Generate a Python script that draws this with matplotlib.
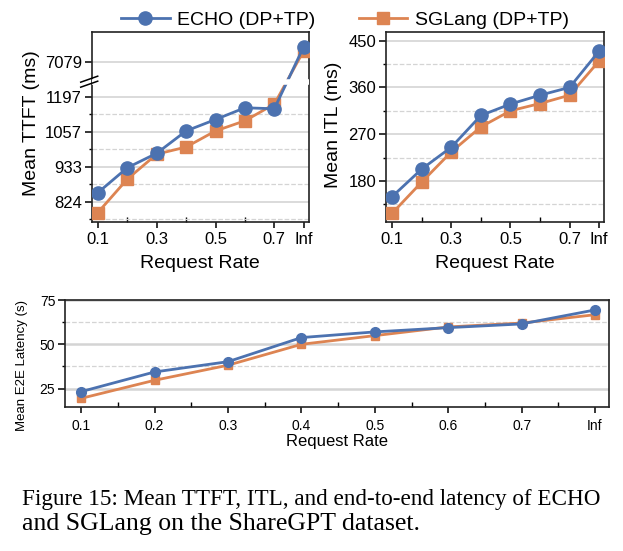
import matplotlib
matplotlib.use("Agg")
import matplotlib.pyplot as plt
import numpy as np

plt.rcParams['font.family'] = ['Liberation Sans', 'DejaVu Sans']

rates = ['0.1', '0.2', '0.3', '0.4', '0.5', '0.6', '0.7', 'Inf']

# mean TTFT (ms)
ttft_echo = [851, 930, 979, 1060, 1104, 1151, 1147, 7467]
ttft_sglang = [793, 893, 976, 1001, 1060, 1099, 1166, 7361]
ttft_ticks = [824, 933, 1057, 1197, 7079]
ttft_minor = [774, 877, 993, 1125]

# mean ITL (ms)
itl_echo = [150, 203, 245, 306, 328, 345, 360, 430]
itl_sglang = [118, 178, 236, 284, 315, 329, 345, 411]
itl_ticks = [180, 270, 360, 450]
itl_minor = [135, 225, 315, 405]

# mean E2E latency (s)
e2e_echo = [23.3, 34.4, 40.2, 53.8, 57.0, 59.4, 61.5, 69.4]
e2e_sglang = [19.5, 29.7, 38.2, 50.0, 54.9, 59.8, 62.0, 66.7]
e2e_ticks = [25, 50, 75]
e2e_minor = [37.5, 62.5]

blue = '#4C72B0'
orange = '#DD8452'

# broken log axis for TTFT
B1, B2 = 1263, 6593


def fwd(y):
    y = np.clip(np.asarray(y, float), 1e-9, None)
    ly = np.log(y)
    return np.where(y <= B1, ly,
                    np.where(y >= B2, ly - np.log(B2) + np.log(B1), np.log(B1)))


def inv(v):
    v = np.asarray(v, float)
    return np.where(v <= np.log(B1), np.exp(v), np.exp(v - np.log(B1) + np.log(B2)))


def style_axes(ax, yticks, yminor, fs_tick, big=True):
    for s in ax.spines.values():
        s.set_linewidth(1.2)
        s.set_color('#222222')
    ax.set_yticks(yticks)
    ax.set_yticks(yminor, minor=True)
    ax.set_yticklabels([str(t) for t in yticks])
    ax.tick_params(axis='y', which='major', direction='out', length=5, width=1.1, labelsize=fs_tick, pad=2)
    ax.tick_params(axis='y', which='minor', direction='out', length=2.5, width=1.0)
    ax.tick_params(axis='x', which='major', direction='out', length=4, width=1.1, labelsize=fs_tick,
                   pad=3 if big else 5)
    ax.tick_params(axis='x', which='minor', direction='in', length=3.5, width=1.0)
    ax.grid(axis='y', which='major', color='#d4d4d4', lw=1.2 if big else 1.8, zorder=0)
    ax.grid(axis='y', which='minor', color='#d4d4d4', ls='--', lw=0.9, zorder=0)
    ax.set_axisbelow(True)


fig = plt.figure(figsize=(6.23, 5.51), dpi=100)
x = np.arange(len(rates))

# ---- TTFT
ax1 = fig.add_axes([0.1472, 0.5966, 0.3488, 0.3448])
ax1.set_yscale('function', functions=(fwd, inv))
ax1.plot(x, ttft_sglang, color=orange, marker='s', ms=9, lw=2, zorder=3, label='SGLang (DP+TP)')
ax1.plot(x, ttft_echo, color=blue, marker='o', ms=9.5, lw=2, zorder=3, label='ECHO (DP+TP)')
ax1.set_ylim(766, 7859)
style_axes(ax1, ttft_ticks, ttft_minor, 12)
# break marks
yb = (222.3 - 81.7) / 190
ax1.plot([0.006, 0.994], [yb, yb], transform=ax1.transAxes, color='white', lw=4, zorder=4)
for off in (-2.5, 2.5):
    ax1.plot([-11 / 217.3, 6 / 217.3], [yb + (off - 3) / 190, yb + (off + 3) / 190],
             transform=ax1.transAxes, color='black', lw=1.1, clip_on=False, zorder=5)
ax1.set_ylabel('Mean TTFT (ms)', fontsize=14)
ax1.yaxis.set_label_coords(-0.238, 0.52)

# ---- ITL
ax2 = fig.add_axes([0.6196, 0.5966, 0.3507, 0.3448])
ax2.plot(x, itl_sglang, color=orange, marker='s', ms=9, lw=2, zorder=3)
ax2.plot(x, itl_echo, color=blue, marker='o', ms=9.5, lw=2, zorder=3)
ax2.set_ylim(100.5, 466)
style_axes(ax2, itl_ticks, itl_minor, 12)
ax2.set_ylabel('Mean ITL (ms)', fontsize=14)
ax2.yaxis.set_label_coords(-0.20, 0.515)

for ax in (ax1, ax2):
    ax.set_xlim(-0.21, 7.18)
    ax.set_xticks([0, 2, 4, 6, 7])
    ax.set_xticklabels([rates[i] for i in [0, 2, 4, 6, 7]])
    ax.set_xticks([1, 3, 5], minor=True)
    ax.set_xlabel('Request Rate', fontsize=14)
    ax.xaxis.set_label_coords(0.5, -0.17)

# ---- E2E
ax3 = fig.add_axes([65 / 623, 1 - 406.7 / 551, 544 / 623, 106.7 / 551])
ax3.plot(x, e2e_sglang, color=orange, marker='s', ms=5.5, lw=2, zorder=3)
ax3.plot(x, e2e_echo, color=blue, marker='o', ms=7, lw=2, zorder=3)
ax3.set_ylim(14.8, 75)
ax3.set_xlim(-0.22, 7.19)
style_axes(ax3, e2e_ticks, e2e_minor, 10, big=False)
ax3.set_xticks(x)
ax3.set_xticklabels(rates)
ax3.set_xticks(x[:-1] + 0.5, minor=True)
ax3.set_ylabel('Mean E2E Latency (s)', fontsize=9.5)
ax3.yaxis.set_label_coords(-0.068, 0.39)
ax3.set_xlabel('Request Rate', fontsize=12)
ax3.xaxis.set_label_coords(0.5, -0.26)

# legend
h, l = ax1.get_legend_handles_labels()
fig.legend(h[::-1], l[::-1], loc='center', bbox_to_anchor=(345 / 623, 1 - 20 / 551), ncol=2,
           frameon=False, fontsize=14, handlelength=2.5, columnspacing=2.2, handletextpad=0.4,
           borderaxespad=0)

# caption
fig.text(22 / 623, 1 - 505 / 551, 'Figure 15: Mean TTFT, ITL, and end-to-end latency of ECHO',
         fontsize=16.65, family='Liberation Serif', va='baseline', ha='left')
fig.text(22 / 623, 1 - 530 / 551, 'and SGLang on the ShareGPT dataset.',
         fontsize=18.5, family='Liberation Serif', va='baseline', ha='left')

fig.savefig('out.png', dpi=100)
